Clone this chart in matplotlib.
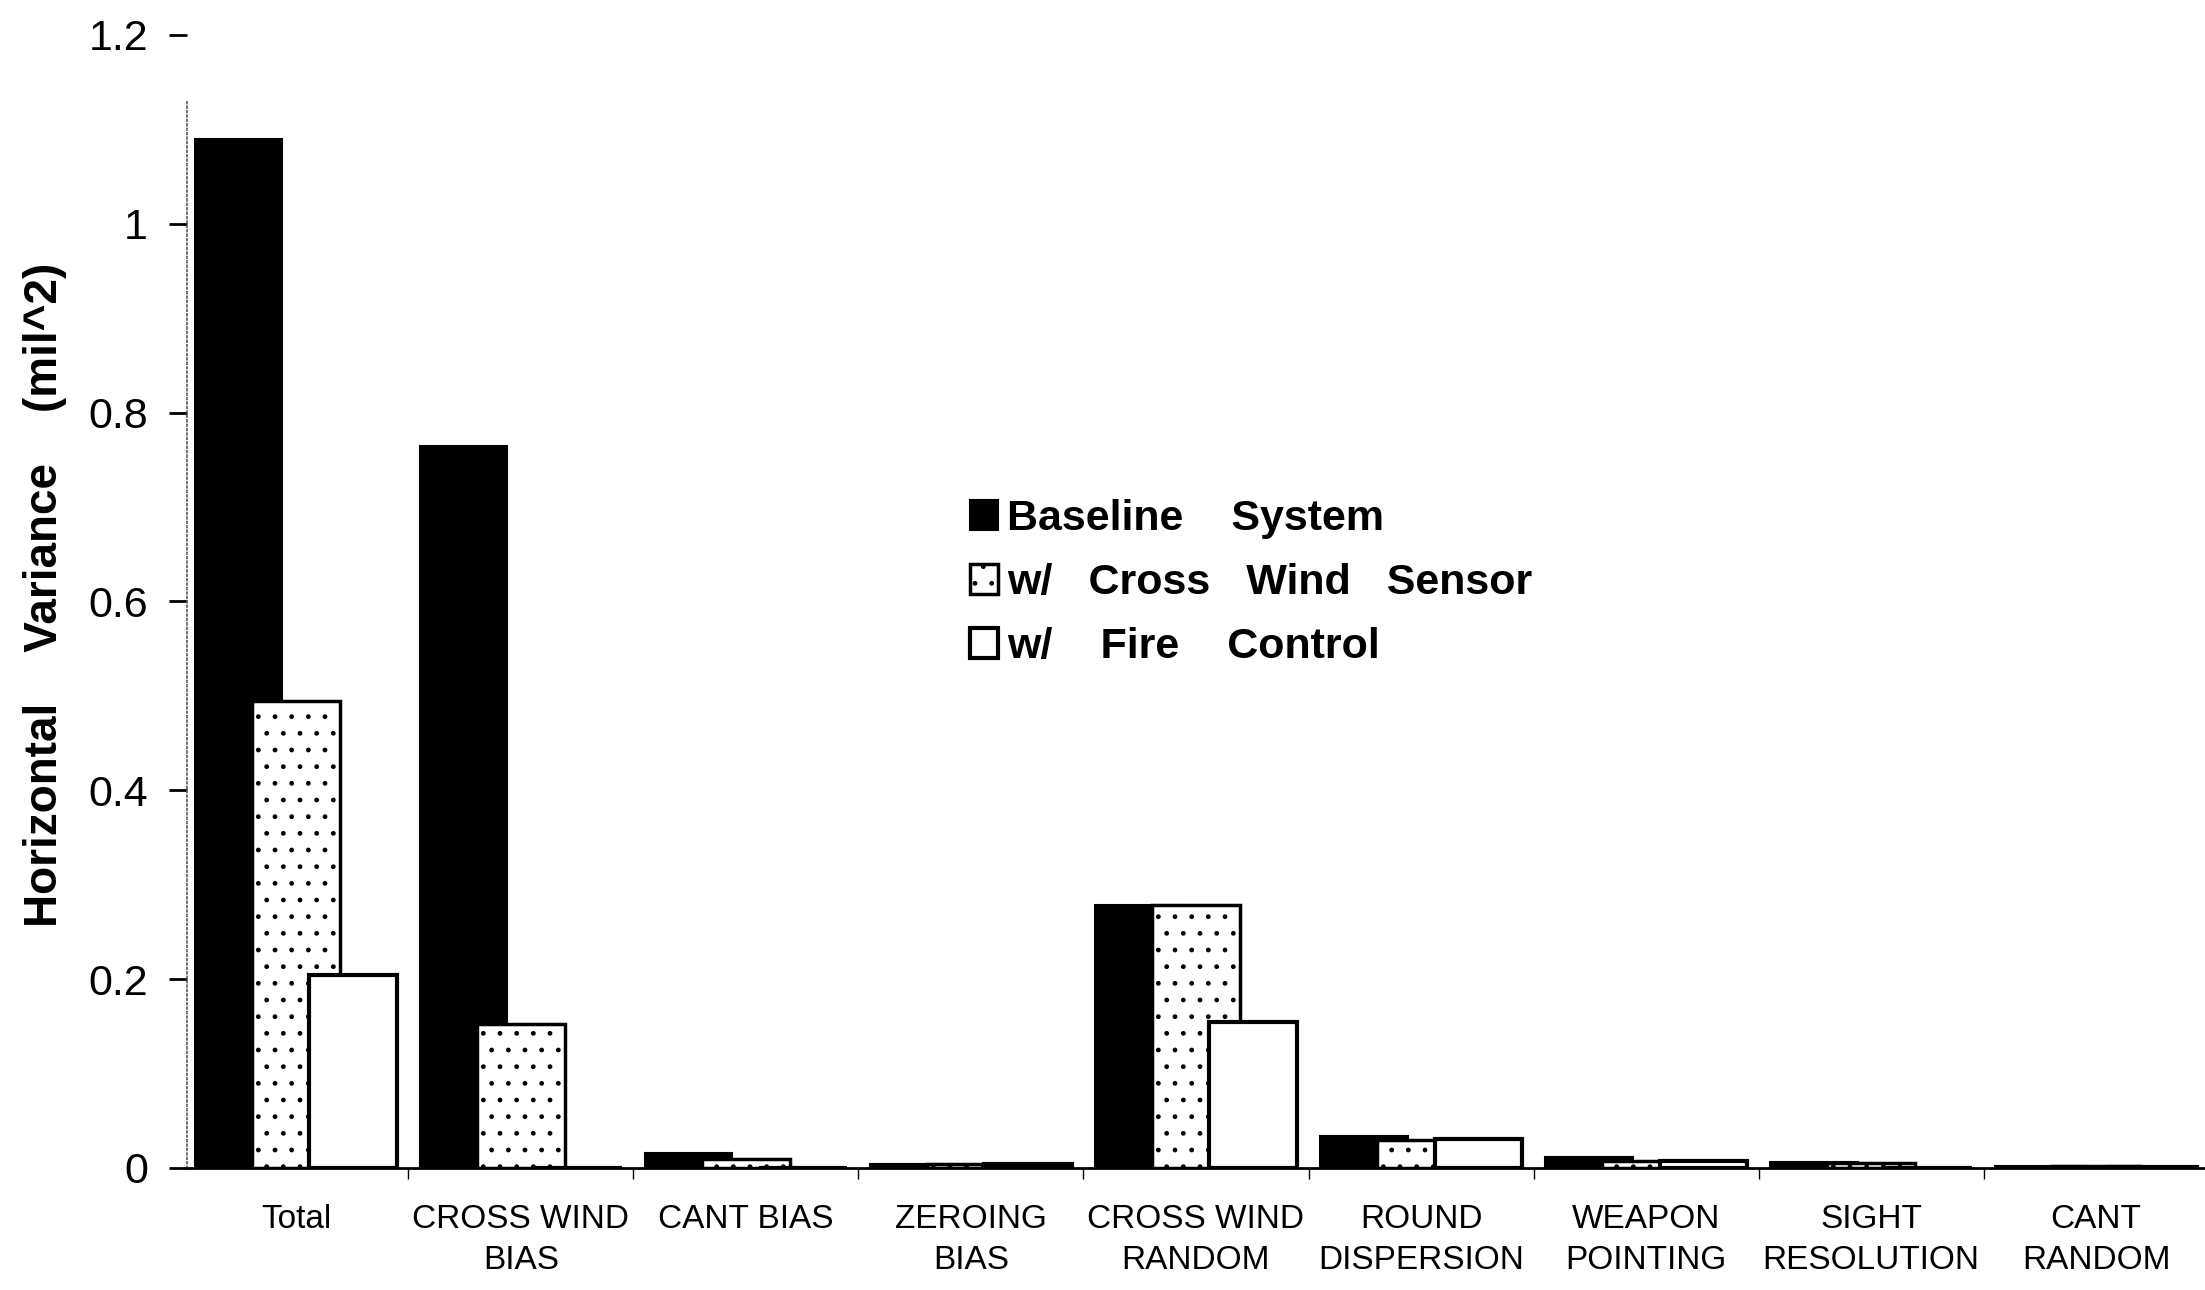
import matplotlib
matplotlib.use('Agg')
import matplotlib.pyplot as plt
import numpy as np

plt.rcParams['font.family'] = ['Liberation Sans', 'DejaVu Sans']
plt.rcParams['hatch.linewidth'] = 1.0

# horizontal variance (mil^2)
categories = ['Total', 'CROSS WIND\nBIAS', 'CANT BIAS', 'ZEROING\nBIAS',
              'CROSS WIND\nRANDOM', 'ROUND\nDISPERSION', 'WEAPON\nPOINTING',
              'SIGHT\nRESOLUTION', 'CANT\nRANDOM']
baseline = [1.09, 0.765, 0.016, 0.004, 0.278, 0.034, 0.012, 0.006, 0.002]
cw_sensor = [0.495, 0.153, 0.010, 0.004, 0.278, 0.030, 0.007, 0.005, 0.002]
fire_control = [0.204, 0.0, 0.0, 0.004, 0.155, 0.031, 0.007, 0.0, 0.001]
series_names = ['Baseline    System', 'w/   Cross   Wind   Sensor',
                'w/    Fire    Control']

y_ticks = [0, 0.2, 0.4, 0.6, 0.8, 1.0, 1.2]
y_tick_labels = ['0', '0.2', '0.4', '0.6', '0.8', '1', '1.2']

x = np.arange(len(categories))
width = 0.39
offset = 0.255

fig = plt.figure(figsize=(22.05, 12.9), dpi=100)
ax = fig.add_axes([0.0848, 0.0946, 0.9152, 0.8783])

ax.bar(x - offset, baseline, width, color='black', edgecolor='black',
       linewidth=1.5, label=series_names[0], zorder=2)
ax.bar(x, cw_sensor, width, color='white', edgecolor='black', hatch='.',
       linewidth=2.5, label=series_names[1], zorder=3)
ax.bar(x + offset, fire_control, width, color='white', edgecolor='black',
       linewidth=3, label=series_names[2], zorder=4)

ax.set_xlim(-0.484, 8.484)
ax.set_ylim(0, 1.2)

ax.set_yticks(y_ticks)
ax.set_yticklabels(y_tick_labels)
ax.set_xticks(x)
ax.set_xticklabels(categories, fontsize=24, linespacing=1.42)
ax.set_xticks(np.arange(0.5, len(categories) - 1, 1.0), minor=True)

ax.tick_params(axis='y', direction='out', length=13, width=2, pad=15,
               labelsize=31)
ax.tick_params(axis='x', which='major', length=0, pad=26)
ax.tick_params(axis='x', which='minor', direction='out', length=8, width=1)

for side in ['top', 'right']:
    ax.spines[side].set_visible(False)
ax.spines['bottom'].set_linewidth(2)
ax.spines['bottom'].set_zorder(5)
ax.spines['left'].set_linestyle(':')
ax.spines['left'].set_color('0.35')
ax.spines['left'].set_linewidth(1.2)
ax.spines['left'].set_bounds(0, 1.13)

fig.text(0.0204, 0.539, 'Horizontal    Variance    (mil^2)', rotation=90,
         fontsize=33, fontweight='bold', ha='center', va='center')

leg = ax.legend(loc='upper left', bbox_to_anchor=(0.44, 0.613),
                bbox_transform=fig.transFigure, frameon=False,
                prop={'size': 31, 'weight': 'bold'},
                handlelength=0.65, handleheight=0.7, handletextpad=0.2,
                labelspacing=0.56, borderpad=0, borderaxespad=0)

fig.savefig('out.png', dpi=100)
